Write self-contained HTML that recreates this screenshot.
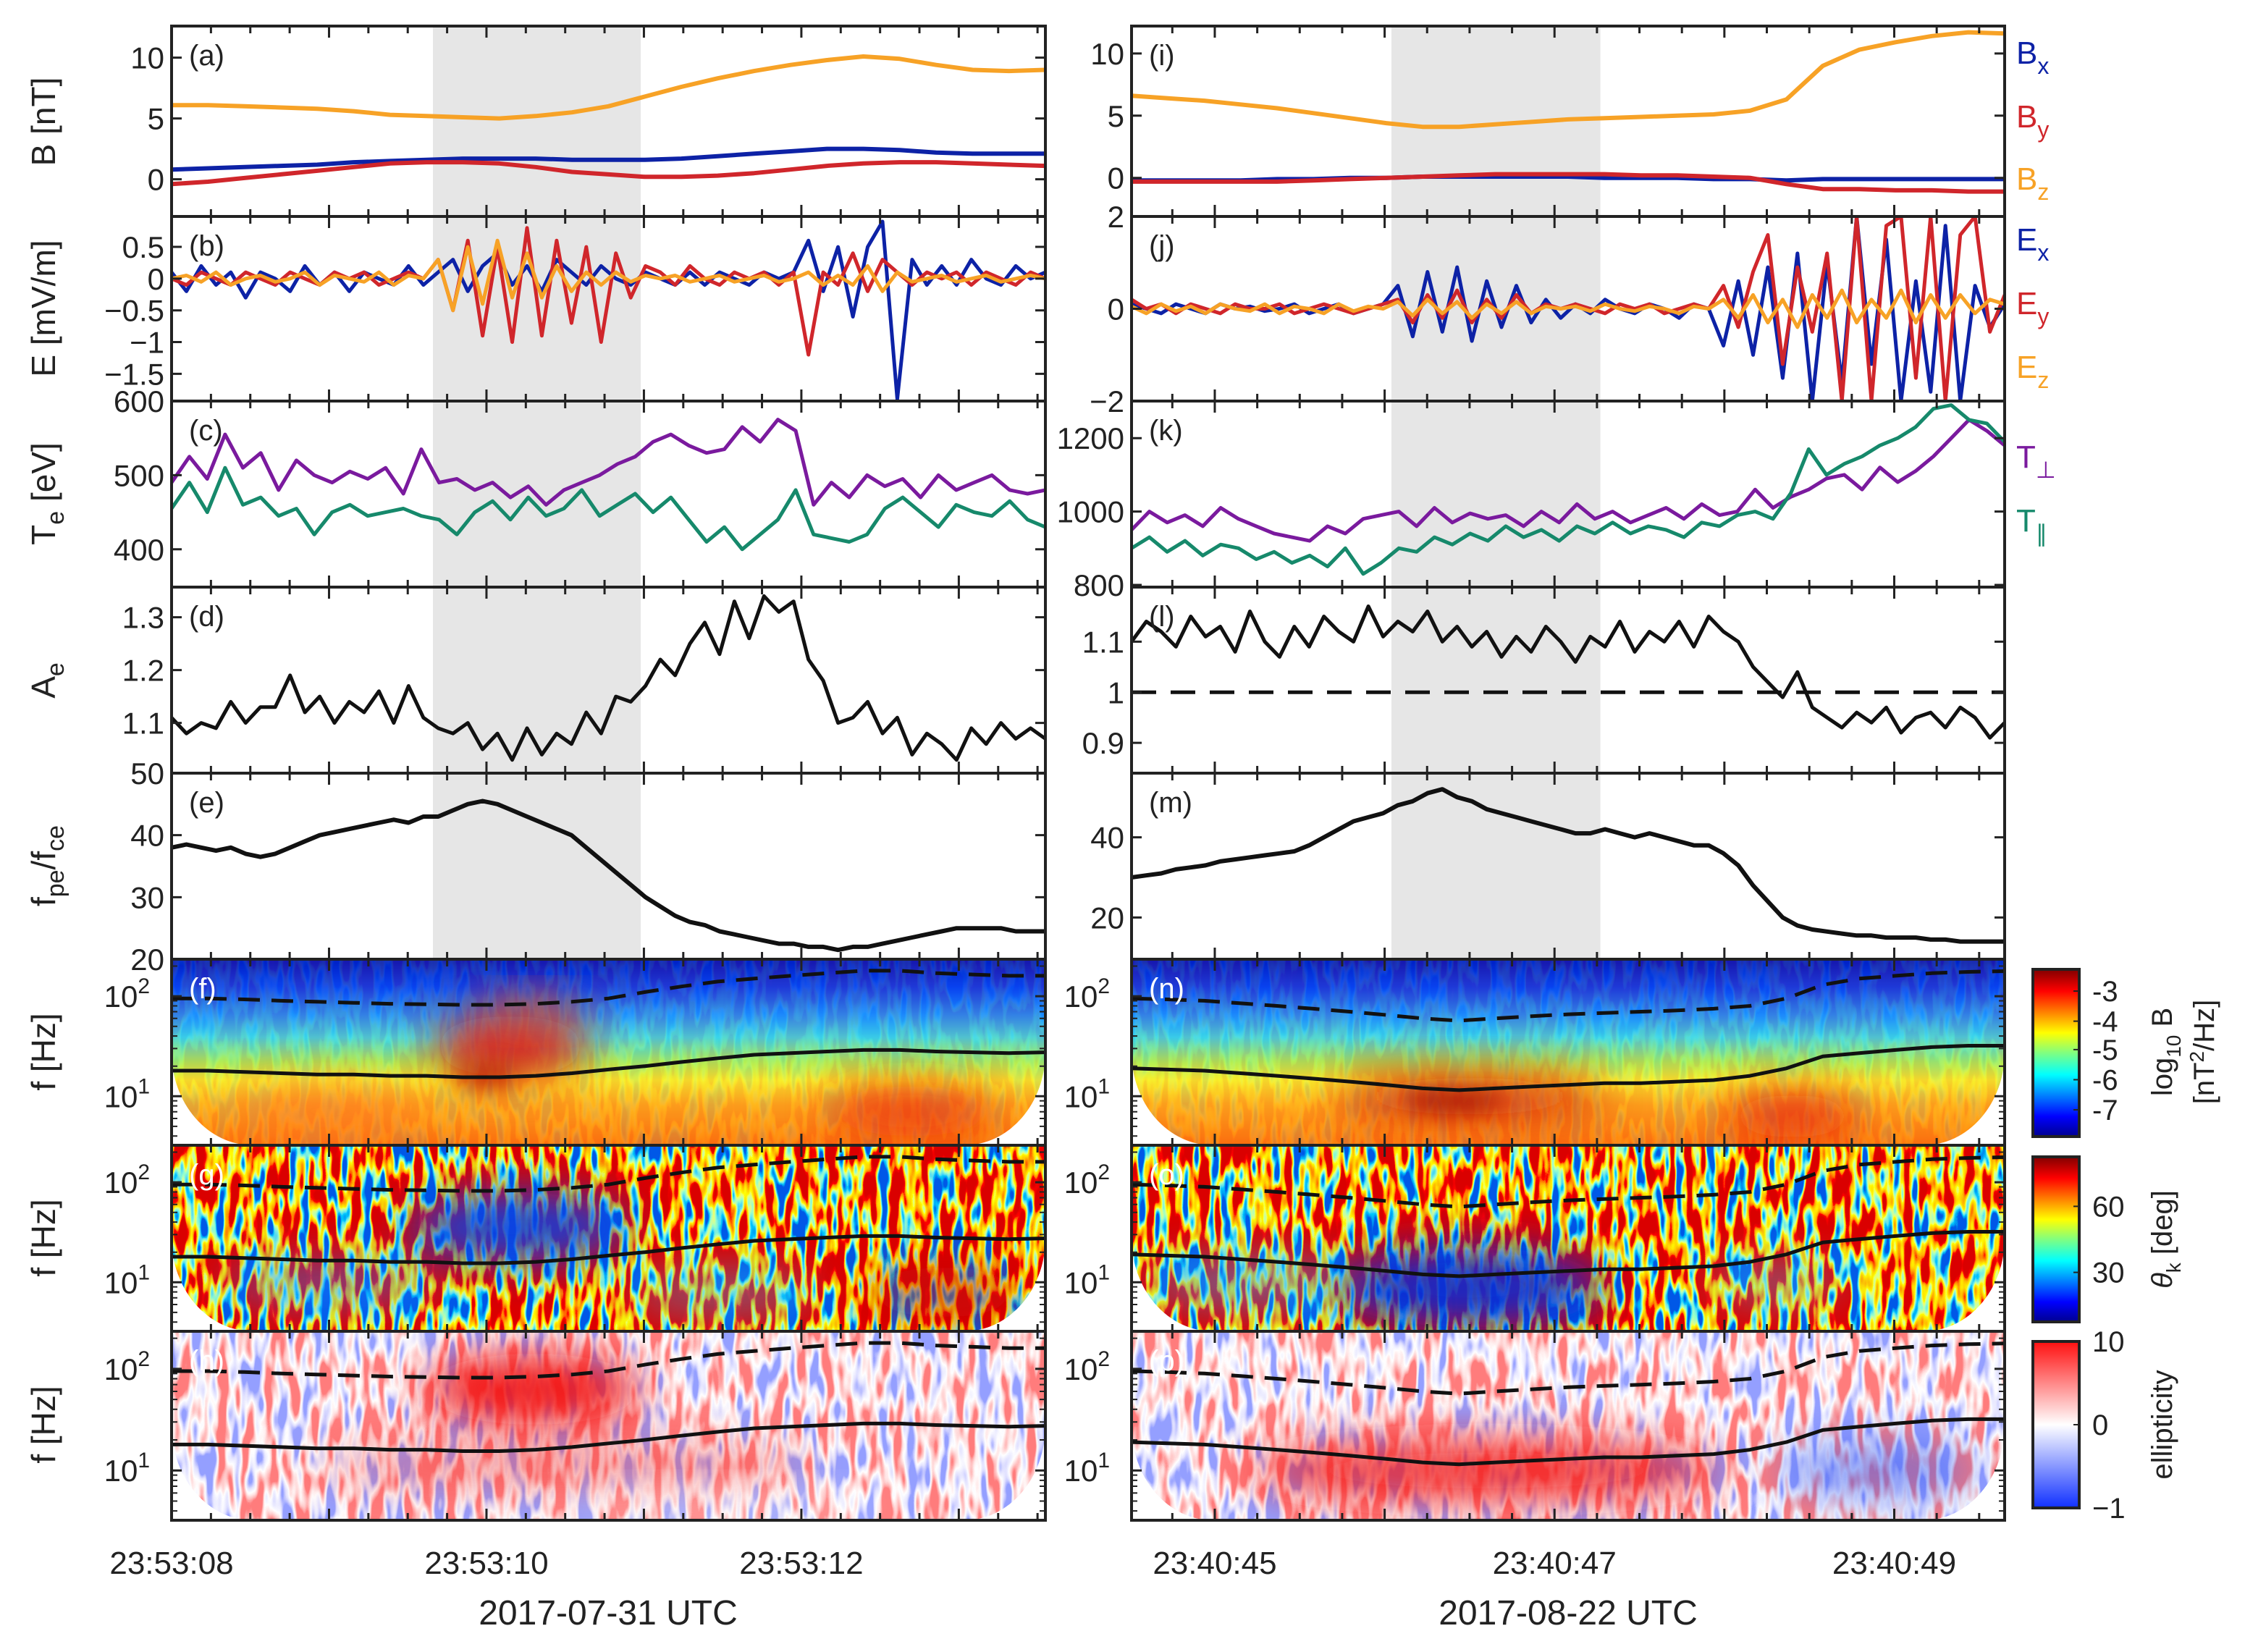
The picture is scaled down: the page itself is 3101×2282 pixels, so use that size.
<!DOCTYPE html>
<html><head><meta charset="utf-8"><style>
html,body{margin:0;padding:0;background:#fff;}
svg{display:block;font-family:"Liberation Sans",Arial,sans-serif;}
</style></head><body>
<svg id="fig" xmlns="http://www.w3.org/2000/svg" width="3101" height="2282" viewBox="0 0 3101 2282">
<defs>
<linearGradient id="jet" x1="0" y1="1" x2="0" y2="0">
<stop offset="0" stop-color="#00008f"/><stop offset="0.12" stop-color="#0000ff"/><stop offset="0.37" stop-color="#00ffff"/><stop offset="0.5" stop-color="#80ff80"/><stop offset="0.62" stop-color="#ffff00"/><stop offset="0.87" stop-color="#ff0000"/><stop offset="1" stop-color="#800000"/>
</linearGradient>
<linearGradient id="bwr" x1="0" y1="1" x2="0" y2="0">
<stop offset="0" stop-color="#1030ff"/><stop offset="0.5" stop-color="#ffffff"/><stop offset="1" stop-color="#ff1010"/>
</linearGradient>
<linearGradient id="fspec" x1="0" y1="0" x2="0" y2="1">
<stop offset="0" stop-color="#0018c0"/><stop offset="0.15" stop-color="#0a40f0"/><stop offset="0.3" stop-color="#2090ff"/><stop offset="0.42" stop-color="#40d8e8"/><stop offset="0.55" stop-color="#a8f060"/><stop offset="0.65" stop-color="#f8f030"/><stop offset="0.78" stop-color="#ffb020"/><stop offset="1" stop-color="#ff7a10"/>
</linearGradient>
<filter id="jetnoise" x="0" y="0" width="100%" height="100%">
<feTurbulence type="fractalNoise" baseFrequency="0.07 0.018" numOctaves="2" seed="4"/>
<feColorMatrix type="matrix" values="1 0 0 0 0 1 0 0 0 0 1 0 0 0 0 0 0 0 0 1"/>
<feComponentTransfer><feFuncR type="linear" slope="3.2" intercept="-1.0"/><feFuncG type="linear" slope="3.2" intercept="-1.0"/><feFuncB type="linear" slope="3.2" intercept="-1.0"/></feComponentTransfer>
<feComponentTransfer><feFuncR type="table" tableValues="0 0 0.3 1 1 1 0.7"/><feFuncG type="table" tableValues="0.1 0.6 1 1 0.5 0 0"/><feFuncB type="table" tableValues="0.8 1 0.6 0 0 0 0"/><feFuncA type="table" tableValues="1 1"/></feComponentTransfer>
</filter>
<filter id="bwrnoise" x="0" y="0" width="100%" height="100%">
<feTurbulence type="fractalNoise" baseFrequency="0.06 0.016" numOctaves="2" seed="9"/>
<feColorMatrix type="matrix" values="1 0 0 0 0 1 0 0 0 0 1 0 0 0 0 0 0 0 0 1"/>
<feComponentTransfer><feFuncR type="linear" slope="3" intercept="-0.95"/><feFuncG type="linear" slope="3" intercept="-0.95"/><feFuncB type="linear" slope="3" intercept="-0.95"/></feComponentTransfer>
<feComponentTransfer><feFuncR type="table" tableValues="0.3 0.75 1 1 1"/><feFuncG type="table" tableValues="0.35 0.75 1 0.6 0.2"/><feFuncB type="table" tableValues="1 1 1 0.6 0.2"/><feFuncA type="table" tableValues="1 1"/></feComponentTransfer>
</filter>
<filter id="blur30" x="-1" y="-1" width="3" height="3"><feGaussianBlur stdDeviation="30"/></filter>
<filter id="blur15" x="-1" y="-1" width="3" height="3"><feGaussianBlur stdDeviation="15"/></filter>
</defs>
</svg>
<script>
// ---------------- data ----------------
const timeLeft = [8.0, 13.55];
const timeRight = [44.51, 49.65];
const shadeLeft = [9.66, 10.98];
const shadeRight = [46.04, 47.27];
const xLabelsLeft = [8, 10, 12];
const xLabelTextLeft = ["23:53:08", "23:53:10", "23:53:12"];
const xLabelsRight = [45, 47, 49];
const xLabelTextRight = ["23:40:45", "23:40:47", "23:40:49"];

const bxL = [0.8,0.9,1.0,1.1,1.2,1.4,1.5,1.6,1.7,1.7,1.7,1.6,1.6,1.6,1.7,1.9,2.1,2.3,2.5,2.5,2.4,2.2,2.1,2.1,2.1];
const byL = [-0.4,-0.2,0.1,0.4,0.7,1.0,1.3,1.4,1.4,1.3,1.0,0.6,0.4,0.2,0.2,0.3,0.5,0.8,1.1,1.3,1.4,1.4,1.3,1.2,1.1];
const bzL = [6.1,6.1,6.0,5.9,5.8,5.6,5.3,5.2,5.1,5.0,5.2,5.5,6.0,6.8,7.6,8.3,8.9,9.4,9.8,10.1,9.9,9.4,9.0,8.9,9.0];
const bxR = [-0.2,-0.2,-0.2,-0.2,-0.1,-0.1,0,0,0.1,0.1,0.1,0.1,0.1,0,0,0,-0.1,-0.1,-0.2,-0.1,-0.1,-0.1,-0.1,-0.1,-0.1];
const byR = [-0.3,-0.3,-0.3,-0.3,-0.3,-0.2,-0.1,0,0.1,0.2,0.3,0.3,0.3,0.3,0.2,0.2,0.1,0,-0.5,-0.9,-0.9,-1.0,-1.0,-1.1,-1.1];
const bzR = [6.6,6.4,6.2,5.9,5.6,5.2,4.8,4.4,4.1,4.1,4.3,4.5,4.7,4.8,4.9,5.0,5.1,5.4,6.3,9.0,10.3,10.9,11.4,11.7,11.6];

const exL = [0.1,-0.2,0.2,-0.1,0.1,-0.3,0.1,0.0,-0.2,0.2,-0.1,0.1,-0.2,0.1,0.0,-0.1,0.2,-0.1,
 0.1,0.3,-0.2,0.2,0.4,-0.1,0.2,-0.2,0.3,0.1,-0.1,0.2,0.0,-0.1,0.1,
 0.0,-0.1,0.1,-0.1,0.1,0.0,-0.1,0.1,0.0,0.1,0.6,-0.2,0.5,-0.6,0.5,0.9,-1.9,0.3,-0.1,0.2,-0.1,0.3,0.0,-0.1,0.2,0.0,0.1];
const eyL = [0,-0.1,0.1,0,-0.1,0.1,0,-0.1,0.1,0,-0.1,0.1,0,0.1,-0.1,0,0.1,0,
 0.3,-0.5,0.6,-0.9,0.5,-1.0,0.8,-0.9,0.6,-0.7,0.5,-1.0,0.4,-0.3,0.2,
 0.1,-0.1,0.2,0,-0.1,0.1,0,0.1,-0.1,0.1,-1.2,0.1,-0.1,0.4,-0.2,0.3,0.1,-0.1,0.1,0,0.1,-0.1,0.1,0,-0.1,0.1,0];
const ezL = [0,0.05,-0.05,0.1,-0.1,0,0.05,-0.05,0,0.1,-0.1,0.05,0,-0.05,0.1,-0.1,0.05,0,
 0.3,-0.5,0.5,-0.4,0.6,-0.3,0.4,-0.3,0.2,-0.2,0.1,-0.1,0.1,-0.05,0.05,
 0,0.05,-0.05,0,0.05,-0.05,0,0.05,-0.05,0,0.1,-0.1,0.05,-0.1,0.2,-0.2,0.1,-0.05,0,0.05,-0.05,0,0.05,-0.05,0,0.05,0];
const exR = [0.1,0,-0.1,0.1,0,-0.1,0.1,0,0.05,-0.05,0,0.1,-0.1,0,0.1,-0.1,0,0.1,
 0.5,-0.6,0.8,-0.5,0.9,-0.7,0.6,-0.4,0.5,-0.3,0.2,-0.2,
 0.1,-0.1,0.2,0,-0.1,0.1,0,-0.2,0.1,0,
 -0.8,0.6,-1.0,0.9,-1.5,1.2,-2,1.0,-1.6,2,-1.2,1.5,-2,0.6,-1.8,1.8,-2,0.5,-0.4,0.1];
const eyR = [0.2,0,0.1,-0.1,0.1,0,-0.1,0.1,0,0,0.1,-0.1,0,0.1,0,-0.1,0,0.1,
 0.2,-0.3,0.3,-0.2,0.4,-0.3,0.2,-0.2,0.3,-0.1,0.1,0,
 0.1,0,-0.1,0.1,0,0.1,-0.1,0,0.1,0,
 0.5,-0.4,0.8,1.6,-1.2,0.9,-0.5,1.2,-2,2,-2,1.8,2,-1.5,2,-2,1.6,2,-0.5,0.3];
const ezR = [0.05,-0.1,0.1,-0.05,0.05,-0.1,0.1,0,-0.05,0.1,-0.1,0.05,0,-0.1,0.1,-0.05,0.05,0,
 0.15,-0.15,0.2,-0.1,0.15,-0.2,0.1,-0.1,0.15,-0.1,0.05,0,
 0.05,-0.05,0.1,0,-0.05,0.05,0,-0.1,0.05,0,
 0.2,-0.2,0.3,-0.3,0.2,-0.4,0.3,-0.2,0.4,-0.3,0.2,-0.2,0.4,-0.3,0.3,-0.2,0.3,-0.1,0.2,0.1];

const tperpL = [490,525,495,555,510,530,480,520,500,490,505,495,510,475,535,
 490,495,480,490,470,485,460,480,490,500,515,525,
 545,555,540,530,535,565,545,575,560,
 460,490,470,500,485,495,470,500,480,490,500,480,475,480];
const tparL = [455,490,450,510,460,470,445,455,420,450,460,445,450,455,445,
 440,420,450,465,440,470,445,455,480,445,460,475,
 450,470,440,410,430,400,420,440,480,
 420,415,410,420,455,470,450,430,460,450,445,465,440,430];
const tperpR = [950,1000,970,990,960,1010,980,960,940,930,
 920,960,940,980,990,1000,960,1010,970,995,
 980,990,960,1000,970,1020,980,1000,970,990,
 1010,980,1020,990,1000,1060,1010,1040,1060,1090,
 1100,1060,1120,1080,1110,1150,1200,1250,1220,1180];
const tparR = [900,930,890,920,880,910,900,870,890,860,
 880,850,900,830,860,900,890,930,910,940,
 920,960,930,950,920,960,940,970,940,960,
 950,930,970,960,990,1000,980,1050,1170,1100,
 1130,1150,1180,1200,1230,1280,1290,1250,1240,1190];

const aeL = [1.11,1.08,1.10,1.09,1.14,1.10,1.13,1.13,1.19,1.12,1.15,1.10,1.14,1.12,1.16,1.10,1.17,1.11,
 1.09,1.08,1.10,1.05,1.08,1.03,1.09,1.04,1.08,1.06,1.12,1.08,1.15,1.14,1.17,
 1.22,1.19,1.25,1.29,1.23,1.33,1.26,1.34,1.31,1.33,1.22,1.18,1.10,
 1.11,1.14,1.08,1.11,1.04,1.08,1.06,1.03,1.09,1.06,1.10,1.07,1.09,1.07];
const aeR = [1.10,1.14,1.12,1.09,1.15,1.11,1.13,1.08,1.16,1.10,1.07,1.13,1.09,1.15,1.12,1.10,1.17,1.11,1.14,1.12,1.16,1.10,1.13,1.09,1.12,1.07,1.11,1.08,1.13,1.10,1.06,1.11,1.09,1.14,1.08,1.12,1.10,1.14,1.09,1.15,1.12,1.10,
 1.05,1.02,0.99,1.04,0.97,0.95,0.93,0.96,0.94,0.97,0.92,0.95,0.96,0.93,0.97,0.95,0.91,0.94];
const fratioL = [38,38.5,38,37.5,38,37,36.5,37,38,39,40,
 40.5,41,41.5,42,42.5,42,43,43,44,45,
 45.5,45,44,43,42,41,40,38,36,34,
 32,30,28.5,27,26,25.5,24.5,24,23.5,23,
 22.5,22.5,22,22,21.5,22,22,22.5,23,23.5,
 24,24.5,25,25,25,25,24.5,24.5,24.5];
const fratioR = [30,30.5,31,32,32.5,33,34,34.5,35,35.5,36,36.5,
 38,40,42,44,45,46,48,49,51,52,
 50,49,47,46,45,44,43,42,41,41,
 42,41,40,41,40,39,38,38,36,33,
 28,24,20,18,17,16.5,16,15.5,
 15.5,15,15,15,14.5,14.5,14,14,14,14];
const fSolidL = [18,18,17.5,17,16.5,16.5,16,16,15.5,15.5,16,17,18.5,20,22,24,26,27,28,29,29,28,27.5,27,27.5];
const fDashL = [95,95,93,90,88,86,84,83,82,82,84,88,95,110,125,140,150,160,170,180,180,170,165,160,160];
const fSolidR = [19,18.5,18,17,16,15,14,13,12,11.5,12,12.5,13,13.5,13.5,14,14.5,16,19,25,27,29,31,32,32];
const fDashR = [95,93,90,85,80,75,70,65,60,57,60,63,66,68,70,72,75,80,95,130,150,160,170,175,178];

// ---------------- geometry ----------------
const NS = 'http://www.w3.org/2000/svg';
const svg = document.getElementById('fig');
const LX = [237, 1444], RX = [1563, 2769];
const rowsY = [36, 299, 554, 811, 1068, 1325, 1582, 1839, 2100];
const COL = {bx:'#0d22a6', by:'#d0262b', bz:'#f7a226', perp:'#7a1a9e', par:'#16896b'};

function mk(tag, attrs, parent) {
  const e = document.createElementNS(NS, tag);
  for (const k in attrs) e.setAttribute(k, attrs[k]);
  (parent || svg).appendChild(e);
  return e;
}
function scaleLin(d, r) { return v => r[0] + (v - d[0]) / (d[1] - d[0]) * (r[1] - r[0]); }

const gShade = mk('g', {});


const gSpec = mk('g', {});
const gLines = mk('g', {});
const gAxes = mk('g', {});

function text(str, x, y, size, anchor, parent, name) {
  const t = mk('text', {x: x, y: y, 'font-size': size, 'text-anchor': anchor || 'middle', fill: '#222'}, parent || gAxes);
  t.textContent = str;
  
  
  return t;
}

function panel(col, row, tdom, ydom, yticks, ylabels, letter, opts) {
  opts = opts || {};
  const px = col === 0 ? LX : RX;
  const y0 = rowsY[row], y1 = rowsY[row + 1];
  const sx = scaleLin(tdom, px);
  const sy = scaleLin(ydom, [y1, y0]);
  const g = mk('g', {}, gAxes);
  
  
  const frame = mk('rect', {x: px[0], y: y0, width: px[1] - px[0], height: y1 - y0, fill: 'none', stroke: '#222', 'stroke-width': 4}, g);
  
  
  const t0 = Math.ceil(tdom[0] * 4) / 4;
  for (let t = t0; t <= tdom[1] + 1e-6; t += 0.25) {
    const x = sx(t);
    const len = Math.abs(t - Math.round(t)) < 1e-6 ? 16 : 10;
    const tk = mk('path', {d: `M${x},${y0}v${len}M${x},${y1}v${-len}`, stroke: '#222', 'stroke-width': 3}, g);
    
    
  }
  yticks.forEach((v, i) => {
    const y = sy(v);
    const tk = mk('path', {d: `M${px[0]},${y}h14M${px[1]},${y}h-14`, stroke: '#222', 'stroke-width': 3}, g);
    
    
    if (opts.log) {
      const t = text('10', px[0] - 30, y + 15, 42, 'end', g, 'y-tick-label');
      const s = mk('tspan', {dy: -19, 'font-size': 30}, t);
      s.textContent = ylabels[i];
    } else {
      text(ylabels[i], px[0] - 10, y + 15, 42, 'end', g, 'y-tick-label');
    }
  });
  if (opts.log) {
    for (let d = 0; d <= 2; d++) for (let m = 2; m <= 9; m++) {
      const lv = d + Math.log10(m);
      if (lv < ydom[0] || lv > ydom[1]) continue;
      const y = sy(lv);
      const tk = mk('path', {d: `M${px[0]},${y}h8M${px[1]},${y}h-8`, stroke: '#222', 'stroke-width': 2}, g);
      
      
    }
  }
  const lt = text('(' + letter + ')', px[0] + 24, y0 + 54, 40, 'start', g, 'panel-letter');
  if (opts.white) lt.setAttribute('fill', '#fff');
  return {sx, sy, px, y0, y1};
}

function series(P, tdom, vals, color, width, name, dash) {
  const dt = (tdom[1] - tdom[0]) / (vals.length - 1);
  const pts = vals.map((v, i) => P.sx(tdom[0] + i * dt).toFixed(1) + ',' + P.sy(v).toFixed(1)).join(' ');
  const pl = mk('polyline', {points: pts, fill: 'none', stroke: color, 'stroke-width': width, 'stroke-linejoin': 'round', 'clip-path': 'url(#clip-' + P.id + ')'}, gLines);
  if (dash) pl.setAttribute('stroke-dasharray', dash);
  
  
  return pl;
}
let clipN = 0;
function addClip(P) {
  P.id = 'c' + (clipN++);
  const cp = mk('clipPath', {id: 'clip-' + P.id}, svg.querySelector('defs'));
  mk('rect', {x: P.px[0], y: P.y0, width: P.px[1] - P.px[0], height: P.y1 - P.y0}, cp);
  return P;
}

[[shadeLeft, timeLeft, LX], [shadeRight, timeRight, RX]].forEach(([sh, td, px]) => {
  const sx = scaleLin(td, px);
  const r = mk('rect', {x: sx(sh[0]), y: rowsY[0], width: sx(sh[1]) - sx(sh[0]), height: rowsY[5] - rowsY[0], fill: '#e6e6e6'}, gShade);
  
  
});

let P = addClip(panel(0, 0, timeLeft, [-3.06, 12.6], [0,5,10], ['0','5','10'], 'a'));
series(P, timeLeft, bzL, COL.bz, 6, 'bz-left');
series(P, timeLeft, bxL, COL.bx, 6, 'bx-left');
series(P, timeLeft, byL, COL.by, 6, 'by-left');
P = addClip(panel(1, 0, timeRight, [-3.1, 12.2], [0,5,10], ['0','5','10'], 'i'));
series(P, timeRight, bzR, COL.bz, 6, 'bz-right');
series(P, timeRight, bxR, COL.bx, 6, 'bx-right');
series(P, timeRight, byR, COL.by, 6, 'by-right');
P = addClip(panel(0, 1, timeLeft, [-1.93, 0.98], [-1.5,-1,-0.5,0,0.5], ['\u22121.5','\u22121','\u22120.5','0','0.5'], 'b'));
series(P, timeLeft, exL, COL.bx, 5, 'ex-left');
series(P, timeLeft, eyL, COL.by, 5, 'ey-left');
series(P, timeLeft, ezL, COL.bz, 5, 'ez-left');
P = addClip(panel(1, 1, timeRight, [-2, 2], [-2,0,2], ['\u22122','0','2'], 'j'));
series(P, timeRight, exR, COL.bx, 5, 'ex-right');
series(P, timeRight, eyR, COL.by, 5, 'ey-right');
series(P, timeRight, ezR, COL.bz, 5, 'ez-right');
P = addClip(panel(0, 2, timeLeft, [349, 600], [400,500,600], ['400','500','600'], 'c'));
series(P, timeLeft, tperpL, COL.perp, 5, 'tperp-left');
series(P, timeLeft, tparL, COL.par, 5, 'tpar-left');
P = addClip(panel(1, 2, timeRight, [794, 1301], [800,1000,1200], ['800','1000','1200'], 'k'));
series(P, timeRight, tperpR, COL.perp, 5, 'tperp-right');
series(P, timeRight, tparR, COL.par, 5, 'tpar-right');
P = addClip(panel(0, 3, timeLeft, [1.005, 1.357], [1.1,1.2,1.3], ['1.1','1.2','1.3'], 'd'));
series(P, timeLeft, aeL, '#111', 5, 'ae-left');
P = addClip(panel(1, 3, timeRight, [0.84, 1.208], [0.9,1,1.1], ['0.9','1','1.1'], 'l'));
series(P, timeRight, [1,1], '#111', 5, 'ae-unity-line', '34,20');
series(P, timeRight, aeR, '#111', 5, 'ae-right');
P = addClip(panel(0, 4, timeLeft, [20, 50], [20,30,40,50], ['20','30','40','50'], 'e'));
series(P, timeLeft, fratioL, '#111', 6, 'fpe-fce-left');
P = addClip(panel(1, 4, timeRight, [9.6, 56], [20,40], ['20','40'], 'm'));
series(P, timeRight, fratioR, '#111', 6, 'fpe-fce-right');

const fdom = [0.51, 2.37];
function coiPath(P) {
  const x0 = P.px[0], x1 = P.px[1], y0 = P.y0, y1 = P.y1, h = y1 - y0;
  const ey = y0 + 0.5 * h, rx = 112, ry = y1 - ey;
  return `M${x0},${y0}H${x1}V${ey}A${rx} ${ry} 0 0 1 ${x1 - rx},${y1}H${x0 + rx}A${rx} ${ry} 0 0 1 ${x0},${ey}Z`;
}
function blob(g, P, td, t, lf, rxT, ryDec, color, op, flt) {
  const sx = P.sx, sy = P.sy;
  const e = mk('ellipse', {cx: sx(t), cy: sy(lf), rx: Math.abs(sx(t + rxT) - sx(t)), ry: Math.abs(sy(lf) - sy(lf + ryDec)), fill: color, opacity: op, filter: 'url(#' + (flt || 'blur30') + ')'}, g);
  
  
}
function specPanel(col, row, letter, kind) {
  const td = col === 0 ? timeLeft : timeRight;
  const P = addClip(panel(col, row, td, fdom, [1, 2], ['1', '2'], letter, {log: true, white: true}));
  const cp = mk('clipPath', {id: 'coi-' + P.id}, svg.querySelector('defs'));
  mk('path', {d: coiPath(P)}, cp);
  const g = mk('g', {'clip-path': 'url(#coi-' + P.id + ')'}, gSpec);
  
  
  const W = P.px[1] - P.px[0], H = P.y1 - P.y0;
  if (kind === 'psd') {
    mk('rect', {x: P.px[0], y: P.y0, width: W, height: H, fill: 'url(#fspec)'}, g);
    const n = mk('rect', {x: P.px[0], y: P.y0, width: W, height: H, filter: 'url(#jetnoise)', opacity: 0.1}, g);
    
    if (col === 0) {
      blob(g, P, td, 10.15, 1.5, 0.5, 0.3, '#e81010', 0.95);
      blob(g, P, td, 10.0, 1.2, 0.2, 0.12, '#b00000', 0.7, 'blur15');
      blob(g, P, td, 10.3, 1.85, 0.35, 0.12, '#ff5010', 0.8);
      blob(g, P, td, 12.7, 0.85, 0.55, 0.25, '#e82010', 0.8);
      blob(g, P, td, 9.0, 0.85, 0.6, 0.25, '#ff7020', 0.6);
    } else {
      blob(g, P, td, 46.5, 1.0, 0.8, 0.2, '#d00808', 0.9);
      blob(g, P, td, 46.4, 0.95, 0.3, 0.1, '#900000', 0.7, 'blur15');
      blob(g, P, td, 48.4, 0.8, 0.4, 0.22, '#e01010', 0.8);
    }
  } else if (kind === 'theta') {
    const n = mk('rect', {x: P.px[0], y: P.y0, width: W, height: H, filter: 'url(#jetnoise)'}, g);
    
    if (col === 0) {
      blob(g, P, td, 10.2, 1.55, 0.7, 0.35, '#1040e0', 0.95);
      blob(g, P, td, 9.0, 1.0, 0.7, 0.2, '#2080ff', 0.6);
      blob(g, P, td, 11.5, 0.9, 0.6, 0.2, '#30b0f0', 0.55);
      blob(g, P, td, 12.9, 0.9, 0.5, 0.25, '#c01010', 0.7);
    } else {
      blob(g, P, td, 46.5, 0.95, 0.8, 0.4, '#0a2ad0', 0.95);
      blob(g, P, td, 45.2, 1.0, 0.6, 0.25, '#30a0f0', 0.6);
      blob(g, P, td, 48.3, 1.0, 0.4, 0.2, '#40b0f0', 0.5);
    }
  } else {
    const n = mk('rect', {x: P.px[0], y: P.y0, width: W, height: H, filter: 'url(#bwrnoise)'}, g);
    
    if (col === 0) {
      blob(g, P, td, 10.3, 1.8, 0.7, 0.35, '#f01010', 0.95);
      blob(g, P, td, 10.5, 1.05, 1.6, 0.22, '#f04040', 0.55);
      blob(g, P, td, 11.5, 0.65, 1.0, 0.12, '#ffffff', 0.45);
    } else {
      blob(g, P, td, 46.6, 1.0, 1.4, 0.32, '#f01818', 0.85);
      blob(g, P, td, 48.9, 1.0, 0.6, 0.3, '#4060f0', 0.6);
    }
  }
  return P;
}
const rowsSpec = [[5,'f','n','psd'],[6,'g','o','theta'],[7,'h','p','ell']];
rowsSpec.forEach(([row, lA, lB, kind]) => {
  let Pl = specPanel(0, row, lA, kind);
  series(Pl, timeLeft, fSolidL.map(Math.log10), '#111', 5, 'fce-fraction-line-left');
  series(Pl, timeLeft, fDashL.map(Math.log10), '#111', 5, 'fce-dashed-line-left', '30,16');
  let Pr = specPanel(1, row, lB, kind);
  series(Pr, timeRight, fSolidR.map(Math.log10), '#111', 5, 'fce-fraction-line-right');
  series(Pr, timeRight, fDashR.map(Math.log10), '#111', 5, 'fce-dashed-line-right', '30,16');
});

const sxL = scaleLin(timeLeft, LX), sxR = scaleLin(timeRight, RX);
xLabelsLeft.forEach((t, i) => text(xLabelTextLeft[i], sxL(t), 2174, 44, 'middle', gAxes, 'x-tick-label'));
xLabelsRight.forEach((t, i) => text(xLabelTextRight[i], sxR(t), 2174, 44, 'middle', gAxes, 'x-tick-label'));
text('2017-07-31 UTC', 840, 2244, 48, 'middle', gAxes, 'x-axis-title-left');
text('2017-08-22 UTC', 2166, 2244, 48, 'middle', gAxes, 'x-axis-title-right');

function ytitle(parts, cy, name) {
  const t = mk('text', {x: 0, y: 0, 'font-size': 46, 'text-anchor': 'middle', fill: '#222', transform: `translate(76,${cy}) rotate(-90)`}, gAxes);
  
  
  parts.forEach(p => {
    const s = mk('tspan', p[1] ? {dy: p[1], 'font-size': p[2] || 46} : {}, t);
    s.textContent = p[0];
  });
}
ytitle([['B [nT]']], 168, 'y-title-b');
ytitle([['E [mV/m]']], 426, 'y-title-e');
ytitle([['T'], ['e', 12, 34], [' [eV]', -12, 46]], 682, 'y-title-te');
ytitle([['A'], ['e', 12, 34]], 940, 'y-title-ae');
ytitle([['f'], ['pe', 12, 34], ['/f', -12, 46], ['ce', 12, 34]], 1196, 'y-title-fratio');
ytitle([['f [Hz]']], 1453, 'y-title-f1');
ytitle([['f [Hz]']], 1710, 'y-title-f2');
ytitle([['f [Hz]']], 1968, 'y-title-f3');

function legend(main, sub, color, y, name) {
  const t = mk('text', {x: 2785, y: y, 'font-size': 44, fill: color}, gAxes);
  
  
  const a = mk('tspan', {}, t); a.textContent = main;
  const b = mk('tspan', {dy: 14, 'font-size': 32}, t); b.textContent = sub;
}
legend('B', 'x', COL.bx, 88, 'legend-bx');
legend('B', 'y', COL.by, 176, 'legend-by');
legend('B', 'z', COL.bz, 262, 'legend-bz');
legend('E', 'x', COL.bx, 346, 'legend-ex');
legend('E', 'y', COL.by, 434, 'legend-ey');
legend('E', 'z', COL.bz, 522, 'legend-ez');
legend('T', '\u22a5', COL.perp, 646, 'legend-tperp');
legend('T', '\u2225', COL.par, 734, 'legend-tpar');

function colorbar(y0, y1, fill, ticks, labels, name) {
  const g = mk('g', {}, gAxes);
  
  
  mk('rect', {x: 2808, y: y0, width: 64, height: y1 - y0, fill: fill, stroke: '#222', 'stroke-width': 4}, g);
  ticks.forEach((f, i) => {
    const y = y0 + f * (y1 - y0);
    mk('path', {d: `M2872,${y}h-8`, stroke: '#222', 'stroke-width': 2}, g);
    text(labels[i], 2890, y + 14, 40, 'start', g, 'colorbar-tick-label');
  });
  return g;
}
colorbar(1339, 1570, 'url(#jet)', [0.13, 0.31, 0.48, 0.66, 0.84], ['-3','-4','-5','-6','-7'], 'colorbar-psd');
colorbar(1598, 1826, 'url(#jet)', [0.3, 0.7], ['60','30'], 'colorbar-theta');
colorbar(1853, 2083, 'url(#bwr)', [0.0, 0.5, 1.0], ['10','0','\u22121'], 'colorbar-ellipticity');
function cbTitle(x, cy, parts, name) {
  const t = mk('text', {x: 0, y: 0, 'font-size': 40, 'text-anchor': 'middle', fill: '#222', transform: `translate(${x},${cy}) rotate(-90)`}, gAxes);
  
  
  parts.forEach(p => {
    const s = mk('tspan', p[1] ? {dy: p[1], 'font-size': p[2] || 40} : {}, t);
    if (p[3]) s.setAttribute('font-style', 'italic');
    s.textContent = p[0];
  });
}
cbTitle(3000, 1453, [['log'], ['10', 12, 28], [' B', -12, 40]], 'colorbar-title-psd');
cbTitle(3058, 1453, [['[nT'], ['2', -14, 28], ['/Hz]', 14, 40]], 'colorbar-units-psd');
cbTitle(3000, 1712, [['\u03b8', 0, 40, true], ['k', 12, 28], [' [deg]', -12, 40]], 'colorbar-title-theta');
cbTitle(3000, 1968, [['ellipticity']], 'colorbar-title-ellipticity');
</script>
</body></html>
